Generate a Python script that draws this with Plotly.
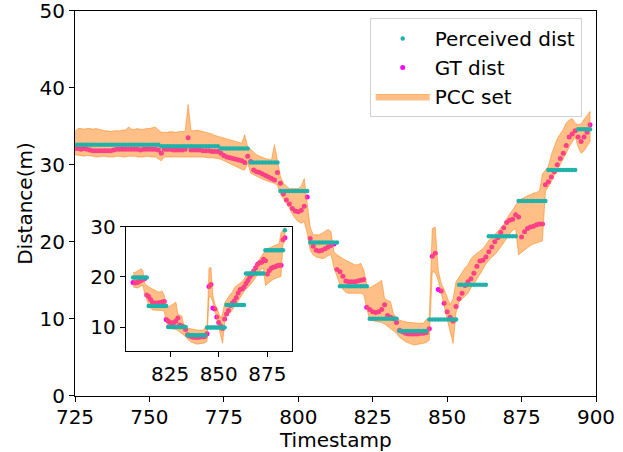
import plotly.graph_objects as go

# ---------------- data ----------------
timestamps = list(range(725, 899))

perceived_dist = ([32.6] * 9 + [32.6] * 10 + [32.6] * 10 + [32.4] * 10 + [32.4] * 10 +
                  [32.1] * 10 + [30.3] * 10 + [26.6] * 10 + [19.9] * 10 + [14.2] * 10 +
                  [10.0] * 10 + [8.4] * 10 + [9.9] * 10 + [14.4] * 10 + [20.7] * 10 +
                  [25.3] * 10 + [29.3] * 10 + [34.6] * 5)

gt_dist = [
    32.1, 32.1, 32.0, 32.1, 32.0, 31.9, 31.8, 31.8, 31.8, 31.8,
    31.8, 31.8, 31.8, 31.9, 32.0, 32.0, 32.0, 32.0, 32.0, 32.0,
    32.0, 32.0, 31.9, 32.0, 32.0, 32.0, 32.0, 32.0, 31.9, 31.5,
    32.0, 32.0, 32.0, 31.9, 31.9, 31.9, 31.9, 32.0, 33.5, 31.9,
    31.9, 31.9, 31.9, 31.8, 31.8, 31.8, 31.7, 31.7, 31.7, 31.5,
    31.2, 31.0, 30.9, 30.8, 30.7, 30.6, 30.5, 30.3, 31.1, 30.4,
    29.3, 29.1, 29.0, 28.8, 28.6, 28.4, 28.2, 28.0, 29.0, 27.6,
    26.2, 25.4, 24.9, 24.3, 24.0, 23.9, 24.1, 24.6, 25.8, 20.4,
    19.4, 18.9, 18.8, 18.9, 19.1, 19.3, 19.5, 19.7, 16.4, 16.1,
    15.5, 14.9, 14.8, 14.8, 14.8, 14.9, 15.0, 15.1, 11.5, 11.2,
    10.9, 10.8, 10.9, 11.2, 11.8, 10.4, 10.2, 10.0, 9.5, 8.5,
    8.3, 8.1, 8.0, 8.0, 8.0, 8.0, 8.1, 8.1, 8.2, 8.7,
    18.1, 18.5, 13.8, 13.6, 12.0, 10.9, 10.2, 9.7, 11.6, 12.6,
    13.3, 14.3, 14.8, 15.2, 15.9, 16.8, 17.5, 17.6, 18.0, 18.7,
    19.3, 20.0, 20.5, 21.2, 21.8, 22.5, 22.8, 22.9, 23.5, 23.2,
    20.6, 21.3, 21.7, 21.9, 22.0, 22.2, 22.3, 22.3, 27.4, 27.8,
    28.4, 29.1, 30.0, 30.8, 31.5, 32.5, 33.6, 34.0, 34.4, 33.6,
    33.0, 33.6, 34.2, 35.2,
]

pcc_upper = [
    34.3, 34.7, 34.7, 34.6, 34.7, 34.7, 34.6, 34.7, 34.6, 34.5,
    34.4, 34.4, 34.3, 34.4, 34.4, 34.4, 34.5, 34.5, 34.9, 34.6,
    34.6, 34.7, 34.6, 34.6, 34.7, 34.7, 34.8, 34.9, 34.5, 34.2,
    34.2, 34.2, 34.3, 34.2, 34.2, 34.3, 34.3, 34.3, 37.8, 34.4,
    34.4, 34.5, 34.4, 34.3, 34.3, 34.2, 34.0, 33.8, 33.7, 33.6,
    33.5, 33.4, 33.3, 33.1, 33.0, 32.9, 32.8, 33.9, 32.3, 32.0,
    31.6, 31.3, 31.1, 30.9, 30.8, 30.7, 30.6, 32.6, 30.4, 28.5,
    27.6, 27.2, 26.9, 26.9, 26.9, 26.9, 27.2, 28.2, 25.0, 21.9,
    20.9, 20.9, 20.9, 21.1, 21.3, 21.6, 21.3, 18.7, 18.3, 18.0,
    17.8, 17.6, 17.4, 17.2, 17.0, 17.0, 17.2, 16.3, 14.4, 14.0,
    14.2, 14.4, 14.7, 15.0, 12.6, 12.4, 12.2, 10.6, 10.2, 9.8,
    9.7, 9.6, 9.5, 9.5, 9.4, 9.4, 9.4, 9.4, 9.9, 10.0,
    21.7, 21.9, 16.3, 14.6, 13.8, 12.8, 11.8, 12.6, 14.8, 15.4,
    16.1, 16.6, 17.0, 17.8, 18.2, 18.5, 18.7, 19.1, 19.6, 20.2,
    20.5, 20.9, 21.3, 21.7, 22.2, 23.0, 23.6, 24.2, 24.8, 25.3,
    25.6, 25.8, 26.0, 26.2, 26.3, 26.4, 26.6, 28.8, 29.3, 29.8,
    31.3, 32.4, 33.4, 34.0, 34.6, 35.4, 35.8, 36.0, 35.4, 35.2,
    35.3, 35.9, 36.4, 36.9,
]

pcc_lower = [
    31.3, 31.2, 31.2, 31.1, 31.2, 31.2, 31.1, 31.0, 31.0, 31.1,
    31.1, 31.0, 31.0, 31.0, 31.1, 31.1, 31.0, 31.0, 31.1, 31.1,
    31.1, 31.0, 31.0, 31.0, 31.1, 31.1, 31.0, 31.0, 30.7, 30.5,
    31.0, 31.0, 31.0, 31.0, 31.0, 31.0, 31.0, 31.0, 31.0, 31.0,
    31.0, 31.0, 31.0, 31.0, 31.0, 30.9, 30.9, 30.9, 30.8, 30.7,
    30.6, 30.4, 30.2, 30.0, 29.8, 29.6, 29.4, 29.3, 30.2, 28.9,
    28.7, 28.5, 28.3, 28.1, 27.9, 27.8, 27.7, 27.6, 27.3, 26.2,
    25.6, 25.0, 24.4, 23.6, 23.0, 22.6, 22.4, 22.6, 21.1, 18.9,
    18.3, 18.0, 17.9, 17.8, 17.9, 18.2, 18.3, 16.6, 15.5, 14.4,
    13.8, 13.4, 13.3, 13.3, 13.3, 13.3, 13.3, 13.1, 11.4, 9.8,
    9.7, 9.6, 9.6, 9.5, 9.3, 9.0, 8.8, 8.4, 8.1, 7.6,
    7.3, 7.0, 6.8, 6.7, 6.6, 6.6, 6.7, 6.8, 6.9, 7.2,
    16.1, 16.0, 15.0, 13.5, 12.0, 10.0, 8.3, 6.8, 10.8, 12.2,
    12.6, 12.9, 13.3, 14.0, 14.5, 15.0, 15.7, 16.4, 17.1, 17.6,
    18.0, 18.3, 18.8, 19.3, 19.8, 20.4, 21.0, 21.5, 21.7, 18.3,
    18.5, 18.8, 19.2, 19.5, 19.7, 19.9, 20.0, 20.1, 26.5, 27.1,
    27.8, 28.6, 29.5, 30.1, 30.8, 31.5, 32.3, 33.0, 33.6, 32.3,
    31.5, 31.8, 32.4, 33.0,
]

main_xticks = [725, 750, 775, 800, 825, 850, 875, 900]
main_yticks = [0, 10, 20, 30, 40, 50]
inset_xticks = [825, 850, 875]
inset_yticks = [10, 20, 30]
inset_t_start, inset_t_end = 806, 884

# ---------------- styles ----------------
FONT = "DejaVu Sans"
TEAL = "#20B2AA"
MAGENTA = "#FF00FF"
BAND_FILL = "rgba(255,127,14,0.5)"
BAND_LINE = "rgba(255,127,14,0.5)"


def add_set(fig, ts, per, gt, up, lo, xa, ya, legend):
    fig.add_trace(go.Scatter(
        x=ts, y=gt, mode="markers", name="GT dist",
        marker=dict(color=MAGENTA, size=5, line=dict(width=0)),
        xaxis=xa, yaxis=ya, showlegend=legend, legendrank=2))
    fig.add_trace(go.Scatter(
        x=ts + ts[::-1], y=up + lo[::-1], mode="lines", fill="toself",
        fillcolor=BAND_FILL, line=dict(color=BAND_LINE, width=1),
        name="PCC set", xaxis=xa, yaxis=ya, showlegend=legend, legendrank=3))
    fig.add_trace(go.Scatter(
        x=ts, y=per, mode="markers", name="Perceived dist",
        marker=dict(color=TEAL, size=4.5, line=dict(width=0)),
        xaxis=xa, yaxis=ya, showlegend=legend, legendrank=1))


fig = go.Figure()
add_set(fig, timestamps, perceived_dist, gt_dist, pcc_upper, pcc_lower, "x", "y", True)

idx = [i for i, t in enumerate(timestamps) if inset_t_start <= t <= inset_t_end]
sub = lambda arr: [arr[i] for i in idx]
add_set(fig, sub(timestamps), sub(perceived_dist), sub(gt_dist), sub(pcc_upper),
        sub(pcc_lower), "x2", "y2", False)

axis_common = dict(showline=True, linecolor="black", linewidth=1, mirror=True,
                   ticks="outside", ticklen=5, tickwidth=1, tickcolor="black",
                   showgrid=False, zeroline=False, automargin=False,
                   ticklabeloverflow="allow",
                   tickfont=dict(family=FONT, size=20, color="black"))

W, H = 623, 452
fig.update_layout(
    width=W, height=H, autosize=False,
    margin=dict(l=0, r=0, t=0, b=0, autoexpand=False),
    paper_bgcolor="white", plot_bgcolor="white",
    font=dict(family=FONT, size=20, color="black"),
    xaxis=dict(domain=[75 / W, 596 / W], range=[725, 900], tickvals=main_xticks,
               anchor="y", ticklabelstandoff=-2, **axis_common),
    yaxis=dict(domain=[(H - 395.7) / H, (H - 10.7) / H], range=[0, 50], tickvals=main_yticks,
               anchor="x", **axis_common),
    xaxis2=dict(domain=[125.7 / W, 292.3 / W], range=[802.2, 887.8], tickvals=inset_xticks,
                anchor="y2", **axis_common),
    yaxis2=dict(domain=[(H - 350.7) / H, (H - 226.7) / H], range=[5.3, 30], tickvals=inset_yticks,
                anchor="x2", **axis_common),
    legend=dict(x=581.7 / W, xanchor="right", y=(H - 18) / H, yanchor="top",
                bgcolor="rgba(255,255,255,0.8)", bordercolor="#d0d0d0", borderwidth=1,
                font=dict(family=FONT, size=20, color="black"), itemsizing="trace",
                itemwidth=54),
    showlegend=True,
    annotations=[
        dict(text="Timestamp", xref="paper", yref="paper",
             x=(75 + 596) / 2 / W, y=(H - 439.5) / H, xanchor="center", yanchor="middle",
             borderpad=0, showarrow=False, font=dict(family=FONT, size=20, color="black")),
        dict(text="Distance(m)", xref="paper", yref="paper", textangle=-90,
             x=25.6 / W, y=(H - 203.2) / H, xanchor="center", yanchor="middle",
             showarrow=False, font=dict(family=FONT, size=20, color="black")),
    ],
)

fig.write_html("out.html")
